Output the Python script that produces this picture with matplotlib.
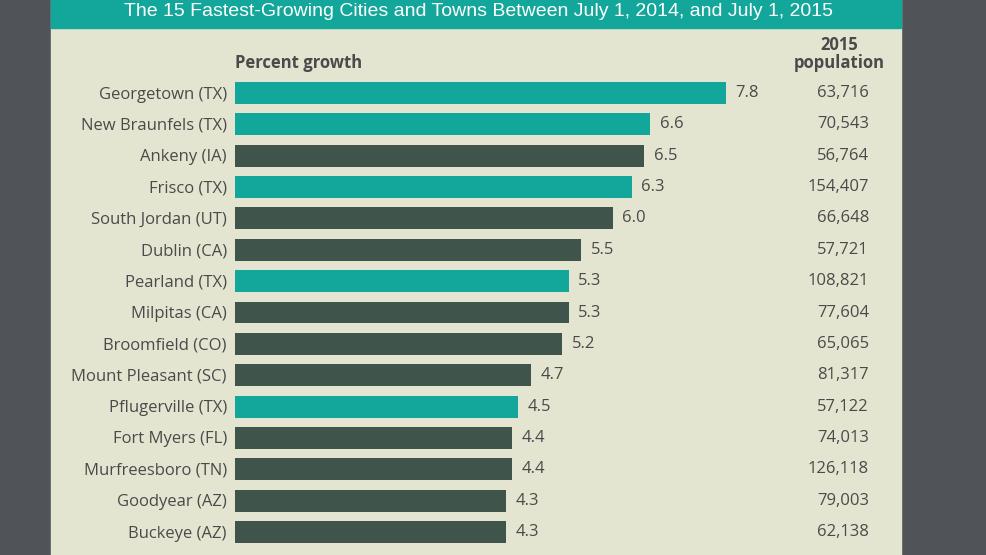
import matplotlib.pyplot as plt
from matplotlib.patches import Rectangle

# Data
cities = [
    "Georgetown (TX)", "New Braunfels (TX)", "Ankeny (IA)", "Frisco (TX)",
    "South Jordan (UT)", "Dublin (CA)", "Pearland (TX)", "Milpitas (CA)",
    "Broomfield (CO)", "Mount Pleasant (SC)", "Pflugerville (TX)",
    "Fort Myers (FL)", "Murfreesboro (TN)", "Goodyear (AZ)", "Buckeye (AZ)",
]
growth = [7.8, 6.6, 6.5, 6.3, 6.0, 5.5, 5.3, 5.3, 5.2, 4.7, 4.5, 4.4, 4.4, 4.3, 4.3]
population = ["63,716", "70,543", "56,764", "154,407", "66,648", "57,721",
              "108,821", "77,604", "65,065", "81,317", "57,122", "74,013",
              "126,118", "79,003", "62,138"]
is_texas = [True, True, False, True, False, False, True, False, False,
            False, True, False, False, False, False]

TEAL = "#12a79a"
DARK = "#3f554c"
BEIGE = "#e4e5d0"
OUTER = "#505357"
TEXT = "#4a4a4a"

W, H = 986, 555
fig = plt.figure(figsize=(W / 100, H / 100), dpi=100, facecolor=OUTER)
plt.rcParams['font.family'] = ['Open Sans', 'DejaVu Sans']

# beige panel and teal title bar
fig.patches.append(Rectangle((51 / W, 0), 850 / W, 1, transform=fig.transFigure,
                             color=BEIGE, zorder=-2))
fig.patches.append(Rectangle((51 / W, 1 - 28 / H), 850 / W, 28 / H,
                             transform=fig.transFigure, color=TEAL, zorder=-1))
fig.text(478 / W, 1 - 12 / H,
         "The 15 Fastest-Growing Cities and Towns Between July 1, 2014, and July 1, 2015",
         color="white", fontsize=14, ha="center", va="center",
         family=["Liberation Sans", "DejaVu Sans"])

# axes: x=0 at pixel 235, ~62.95 px per percent
x0, x1 = 235, 901
ppu = (726 - 235) / 7.8
row0, step = 93, (532 - 93) / 14
ax = fig.add_axes([x0 / W, 0, (x1 - x0) / W, 1 - 28 / H])
ax.set_xlim(0, (x1 - x0) / ppu)
ax.set_ylim((H - row0) / step, (28 - row0) / step)
ax.axis("off")

ys = list(range(len(cities)))
colors = [TEAL if t else DARK for t in is_texas]
ax.barh(ys, growth, height=0.7, color=colors)

for y, city, g, pop in zip(ys, cities, growth, population):
    ax.text(-0.13, y + 0.05, city, ha="right", va="center", fontsize=12, color=TEXT)
    ax.annotate(f"{g:.1f}", (g, y), xytext=(7, 0), textcoords="offset points",
                ha="left", va="center", fontsize=12, color=TEXT)
    ax.text((869 - x0) / ppu, y, pop, ha="right", va="center", fontsize=12,
            color=TEXT)

ax.text(0, (63 - row0) / step, "Percent growth", ha="left", va="center",
        fontsize=12, fontweight="bold", color=TEXT)
ax.text((839 - x0) / ppu, (54 - row0) / step, "2015\npopulation", ha="center",
        va="center", fontsize=12, fontweight="bold", color=TEXT, linespacing=0.95)

fig.savefig("out.png", dpi=100, facecolor=OUTER)
